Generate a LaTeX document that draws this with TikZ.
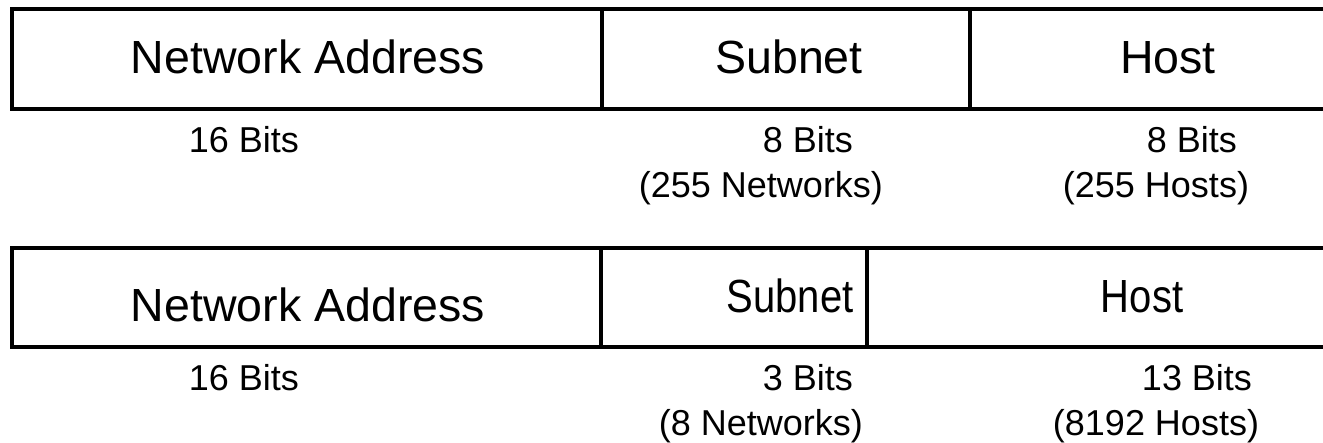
\documentclass[tikz,border=0pt]{standalone}
\usepackage{fontspec}
\setmainfont{Liberation Sans}
\begin{document}
\begin{tikzpicture}[x=1pt,y=-1pt,
  frame/.style={line width=3.5pt,line join=miter,line cap=rect},
  field/.style={anchor=base,inner sep=0pt,font=\fontsize{46.5}{50}\selectfont},
  narrowfield/.style={field,xscale=0.86},
  bits/.style={anchor=base,inner sep=0pt,font=\fontsize{36}{40}\selectfont}]
\useasboundingbox (0,0) rectangle (1323,443);

% upper layout: 16 / 8 / 8
\coordinate (a-tl) at (12,9);    \coordinate (a-bl) at (12,109);
\coordinate (a-tr) at (1330,9);  \coordinate (a-br) at (1330,109);
\coordinate (a-s1) at (602,9);   \coordinate (a-s2) at (602,109);
\coordinate (a-h1) at (970,9);   \coordinate (a-h2) at (970,109);
\draw[frame] (a-tr) -- (a-tl) -- (a-bl) -- (a-br);
\draw[frame] (a-s1) -- (a-s2);
\draw[frame] (a-h1) -- (a-h2);
\node[field] (a-net)  at (308,74)  {Network Address};
\node[field] (a-sub)  at (789,74)  {Subnet};
\node[field] (a-host) at (1168,74) {Host};
\node[bits] (a-nb)  at (244,153)  {16 Bits};
\node[bits] (a-sb1) at (808,153)  {8 Bits};
\node[bits] (a-sb2) at (761,198)  {(255 Networks)};
\node[bits] (a-hb1) at (1192,153) {8 Bits};
\node[bits] (a-hb2) at (1156,198) {(255 Hosts)};

% lower layout: 16 / 3 / 13
\coordinate (b-tl) at (12,248);    \coordinate (b-bl) at (12,347);
\coordinate (b-s1) at (601,248);   \coordinate (b-s2) at (601,347);
\coordinate (b-tr) at (1330,248);  \coordinate (b-br) at (1330,347);
\coordinate (b-h1) at (867,248);   \coordinate (b-h2) at (867,347);
\draw[frame] (b-tr) -- (b-tl) -- (b-bl) -- (b-br);
\draw[frame] (b-s1) -- (b-s2);
\draw[frame] (b-h1) -- (b-h2);
\node[field] (b-net)  at (308,322)  {Network Address};
\node[narrowfield] (b-sub)  at (790,313)  {Subnet};
\node[narrowfield] (b-host) at (1142,313) {Host};
\node[bits] (b-nb)  at (244,391)  {16 Bits};
\node[bits] (b-sb1) at (808,391)  {3 Bits};
\node[bits] (b-sb2) at (761,436)  {(8 Networks)};
\node[bits] (b-hb1) at (1197,391) {13 Bits};
\node[bits] (b-hb2) at (1156,436) {(8192 Hosts)};
\end{tikzpicture}
\end{document}
